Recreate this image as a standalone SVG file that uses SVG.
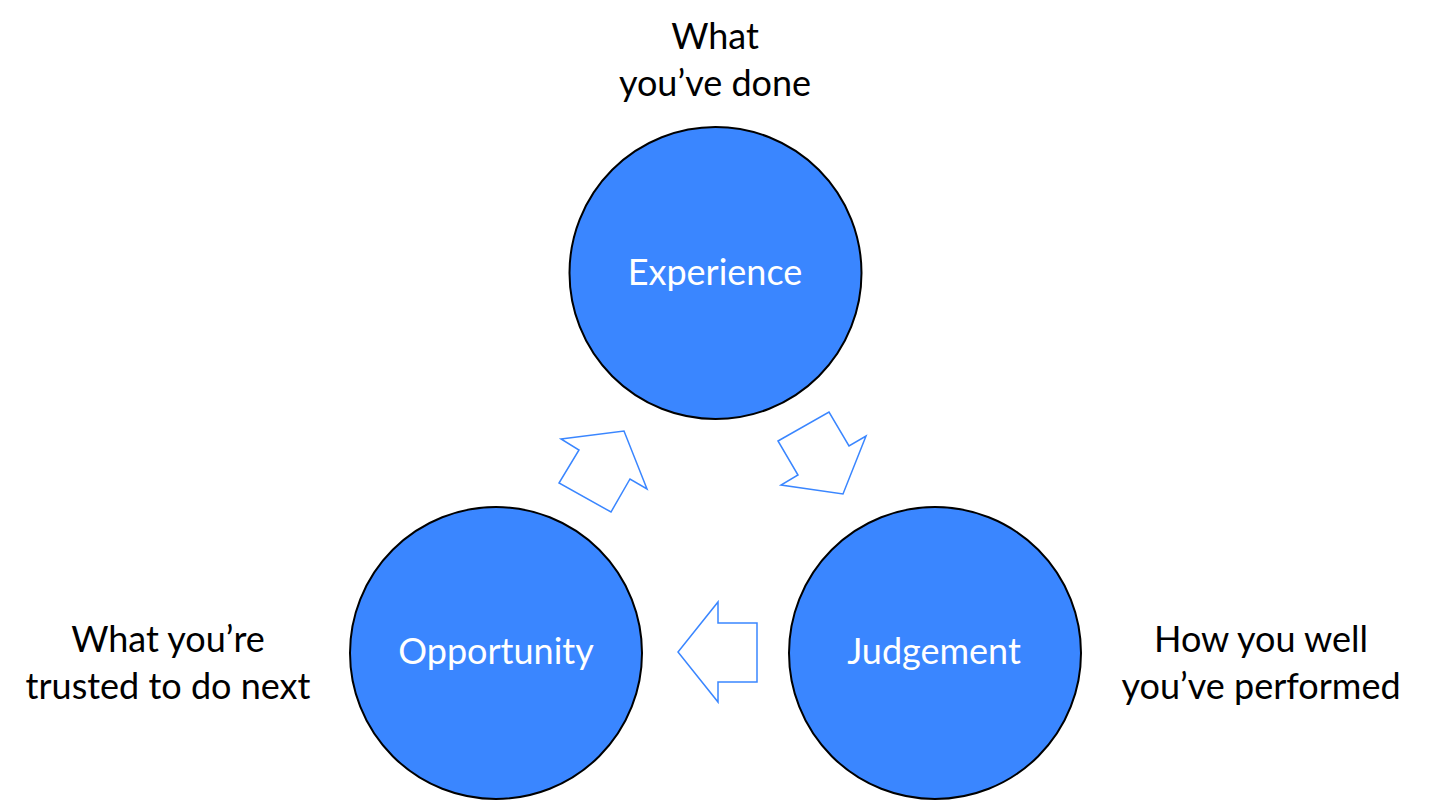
<svg xmlns="http://www.w3.org/2000/svg" width="1430" height="800" viewBox="0 0 1430 800">
<style>
.node{fill:#3A86FF;stroke:#000;stroke-width:2}
.in{font-family:Lato,"Open Sans",sans-serif;font-size:36px;fill:#fff;text-anchor:middle}
.lbl{font-family:Lato,"Open Sans",sans-serif;font-size:36px;fill:#000;text-anchor:middle}
.arr{fill:#fff;stroke:#3A86FF;stroke-width:1.5;stroke-linejoin:miter}
</style>
<rect width="1430" height="800" fill="#fff"/>
<g id="experience">
<circle class="node" cx="715.5" cy="273" r="146"/>
<text class="in" x="715" y="285">Experience</text>
<text class="lbl" x="715" y="49">What</text>
<text class="lbl" x="715" y="96">you’ve done</text>
</g>
<g id="opportunity">
<circle class="node" cx="496" cy="653" r="146"/>
<text class="in" x="496" y="664">Opportunity</text>
<text class="lbl" x="168" y="652">What you’re</text>
<text class="lbl" x="168" y="699">trusted to do next</text>
</g>
<g id="judgement">
<circle class="node" cx="935" cy="653" r="146"/>
<text class="in" x="934" y="664">Judgement</text>
<text class="lbl" x="1261" y="652">How you well</text>
<text class="lbl" x="1261" y="699">you’ve performed</text>
</g>
<g id="connectors">
<polygon class="arr" points="561,439 624,431 647,489 630,479 611,512 559,483 579,450"/>
<polygon class="arr" points="778,441 829,412 849,446 866,436 843,494 781,485 798,475"/>
<polygon class="arr" points="718,602 718,623 757,623 757,682 718,682 718,702 678,652"/>
</g>
</svg>
